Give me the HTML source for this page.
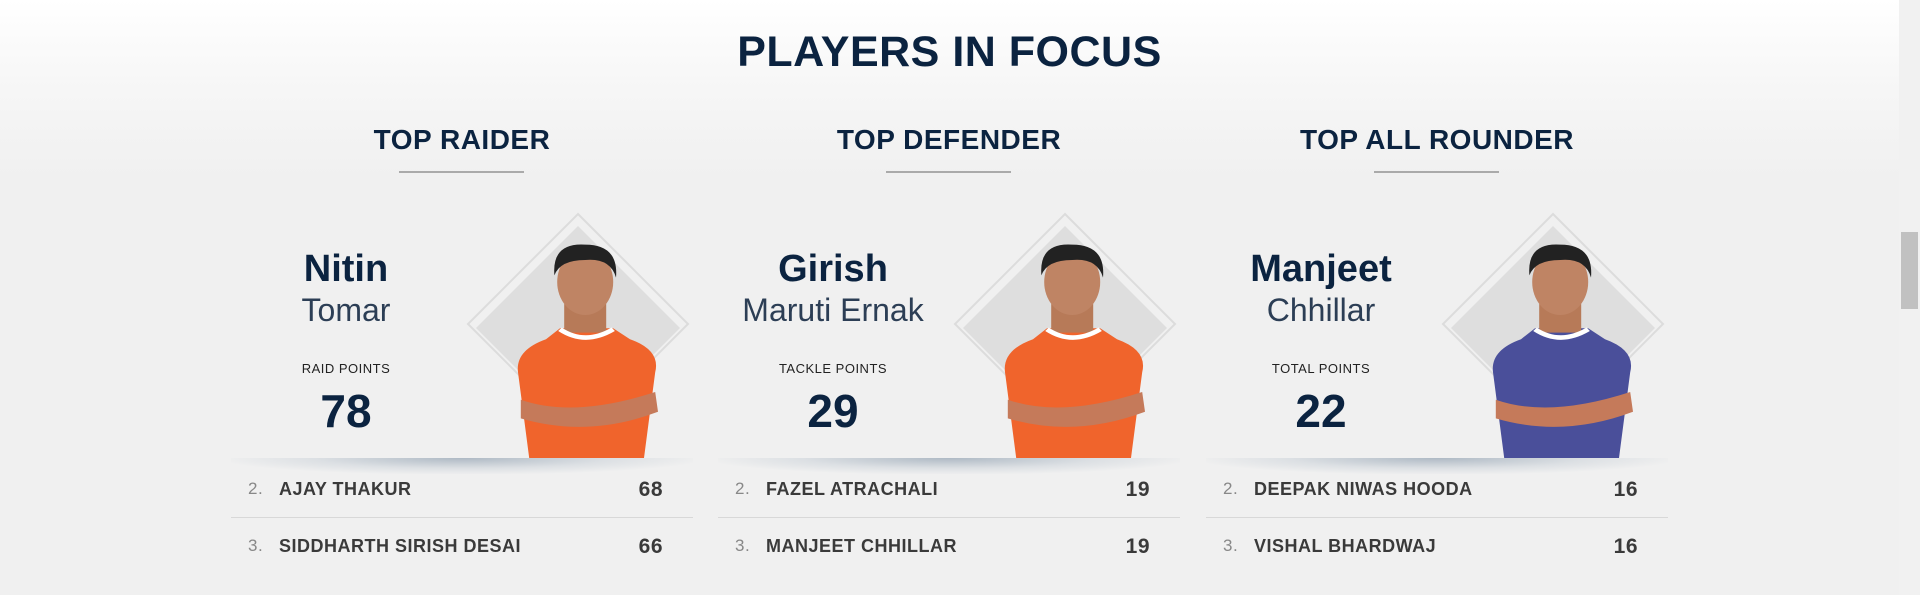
<!DOCTYPE html>
<html><head><meta charset="utf-8"><style>
*{margin:0;padding:0;box-sizing:border-box}
body{width:1920px;height:595px;overflow:hidden;font-family:"Liberation Sans",sans-serif;background:linear-gradient(#fff 0px,#f6f6f6 90px,#f0f0f0 180px,#f0f0f0 595px);position:relative}
.abs{position:absolute}
#title{left:0;width:1899px;top:28px;text-align:center;font-size:43px;font-weight:bold;color:#0b2340;letter-spacing:.5px}
.head{top:124px;width:462px;text-align:center;font-size:28px;font-weight:bold;color:#0b2340;letter-spacing:.5px}
.uline{top:171px;width:125px;height:2px;background:#aaa}
.first{top:248px;width:180px;text-align:center;font-size:38px;font-weight:bold;color:#0b2340}
.last{top:292px;width:240px;text-align:center;font-size:32px;color:#2c3e55;font-weight:300}
.lbl{top:361px;width:180px;text-align:center;font-size:13px;color:#222;letter-spacing:.5px}
.pts{top:384px;width:180px;text-align:center;font-size:46px;font-weight:bold;color:#0b2340}
.shadow{top:458px;width:462px;height:16px;background:radial-gradient(ellipse at 50% 0%,rgba(120,140,160,.55) 0%,rgba(160,175,190,.25) 45%,rgba(240,240,240,0) 75%)}
.row{width:462px;height:46px;font-size:18px;font-weight:bold;color:#3a3a3a;letter-spacing:.5px}
.row .n{position:absolute;left:17px;top:13px;font-weight:normal;color:#888;font-size:17px}
.row .nm{position:absolute;left:48px;top:13px}
.row .v{position:absolute;right:30px;top:12px;font-size:21px}
.div{width:462px;height:1px;background:#d8d8d8;top:517px}
#sb{left:1899px;top:0;width:21px;height:595px;background:#f1f1f1}
#thumb{left:1901px;top:232px;width:17px;height:77px;background:#c1c1c1}
</style></head><body>
<div id="title" class="abs">PLAYERS IN FOCUS</div>

<div id="cols"></div>
<div id="sb" class="abs"></div>
<div id="thumb" class="abs"></div>
<script>
const heads=["TOP RAIDER","TOP DEFENDER","TOP ALL ROUNDER"];
const firsts=["Nitin","Girish","Manjeet"];
const lasts=["Tomar","Maruti Ernak","Chhillar"];
const labels=["RAID POINTS","TACKLE POINTS","TOTAL POINTS"];
const points=[78,29,22];
const second=[["AJAY THAKUR",68],["FAZEL ATRACHALI",19],["DEEPAK NIWAS HOODA",16]];
const third=[["SIDDHARTH SIRISH DESAI",66],["MANJEET CHHILLAR",19],["VISHAL BHARDWAJ",16]];
const shirts=["#f0642c","#f0642c","#4a4f9a"];
const lefts=[231,718,1206];
const c=document.getElementById('cols');
function mk(cls,left,top,txt){const d=document.createElement('div');d.className='abs '+cls;d.style.left=left+'px';if(top!=null)d.style.top=top+'px';if(txt!=null)d.innerHTML=txt;c.appendChild(d);return d;}
lefts.forEach((L,i)=>{
 let e;
 e=mk('head',L,null,heads[i]);
 
 
 e=mk('uline',L+168,null,null);
 
 
 const cx=L+347;
 const sv=document.createElementNS('http://www.w3.org/2000/svg','svg');
 sv.setAttribute('width','260');sv.setAttribute('height','260');
 sv.style.position='absolute';sv.style.left=(cx-130)+'px';sv.style.top='200px';
 
 
 const s=shirts[i];
 sv.innerHTML=`<polygon points="130,14 240,124 130,234 20,124" fill="none" stroke="#dcdcdc" stroke-width="2"/>
 <polygon points="130,26 232,128 130,230 28,128" fill="#dedede"/>
 <g transform="translate(140,258) scale(1.4,1.1) translate(-140,-258)">
 <path d="M98 258 L90 180 Q88 160 110 150 L120 140 L158 140 L170 150 Q192 160 188 180 L180 258 Z" fill="${s}"/>
 <path d="M92 205 Q130 222 188 198 L190 216 Q140 240 92 222 Z" fill="#c57a5a"/>
 <rect x="123" y="118" width="30" height="26" fill="#b77a58"/>
 <ellipse cx="138" cy="98" rx="20" ry="30" fill="#bf8464"/>
 <path d="M116 92 Q114 62 138 64 Q162 64 160 94 Q156 76 138 78 Q120 78 116 92Z" fill="#222"/>
 <path d="M120 141 Q138 156 158 141" stroke="#fff" stroke-width="4" fill="none"/></g>`;
 c.appendChild(sv);
 e=mk('first',L+25,null,firsts[i]);
 
 
 e=mk('last',L-5,null,lasts[i]);
 
 
 e=mk('lbl',L+25,null,labels[i]);
 
 
 e=mk('pts',L+25,null,points[i]);
 
 
 e=mk('shadow',L,null,null);
 
 
 e=mk('row',L,466,`<span class="n">2.</span><span class="nm">${second[i][0]}</span><span class="v">${second[i][1]}</span>`);
 
 
 e=mk('div',L,null,null);
 
 
 e=mk('row',L,523,`<span class="n">3.</span><span class="nm">${third[i][0]}</span><span class="v">${third[i][1]}</span>`);
 
 
});
</script>
</body></html>
